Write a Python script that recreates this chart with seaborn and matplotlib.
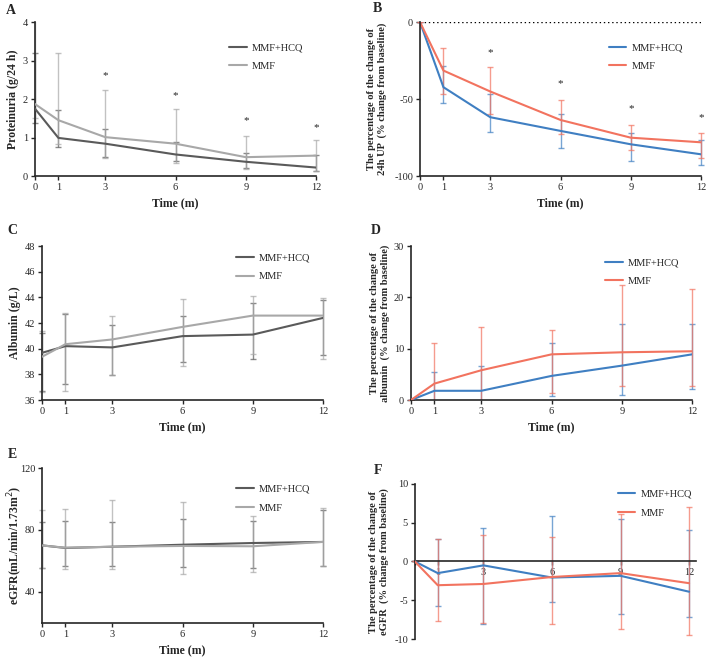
import numpy as np
import pandas as pd
import seaborn as sns
import matplotlib.pyplot as plt
from matplotlib.transforms import Bbox, TransformedBbox

sns.set_style("ticks")
plt.rcParams['font.family'] = ['Liberation Serif', 'DejaVu Serif']
plt.rcParams['axes.unicode_minus'] = False

time = [0, 1, 3, 6, 9, 12]
groups = ["MMF+HCQ", "MMF"]

# A: proteinuria (g/24 h)
a_hcq = [1.75, 0.99, 0.84, 0.56, 0.37, 0.22]
a_hcq_lo = [1.38, 0.75, 0.50, 0.38, 0.20, 0.14]
a_hcq_hi = [3.19, 1.72, 1.22, 0.88, 0.60, 0.55]
a_mmf = [1.87, 1.45, 1.01, 0.84, 0.49, 0.53]
a_mmf_lo = [1.51, 0.82, 0.47, 0.35, 0.18, 0.12]
a_mmf_hi = [4.40, 3.19, 2.23, 1.73, 1.05, 0.94]
a_star = [None, None, 2.6, 2.1, 1.45, 1.25]

# B: % change of 24h UP
b_hcq = [0, -42.3, -61.8, -70.7, -79.4, -85.9]
b_hcq_lo = [0, -52.7, -71.6, -81.6, -90.2, -92.8]
b_hcq_hi = [0, -28.4, -46.8, -59.9, -71.8, -76.8]
b_mmf = [0, -31.5, -45.1, -63.6, -75.1, -78.1]
b_mmf_lo = [0, -46.8, -59.5, -72.9, -83.0, -88.0]
b_mmf_hi = [0, -16.9, -29.5, -50.8, -66.8, -71.8]
b_star = [None, None, -20, -40, -56, -62]

# C: albumin (g/L)
c_hcq = [39.68, 40.20, 40.10, 40.98, 41.10, 42.40]
c_hcq_lo = [36.70, 37.24, 37.97, 39.00, 39.20, 39.50]
c_hcq_hi = [41.20, 42.69, 41.81, 42.56, 43.60, 43.83]
c_mmf = [39.37, 40.35, 40.72, 41.70, 42.58, 42.58]
c_mmf_lo = [36.62, 36.73, 37.95, 38.67, 39.56, 39.19]
c_mmf_hi = [41.39, 42.82, 42.58, 43.90, 44.11, 43.98]

# D: % change of albumin
d_hcq = [0, 1.8, 1.8, 4.7, 6.7, 8.9]
d_hcq_lo = [0, -1.8, -3.1, 0.7, 0.9, 2.2]
d_hcq_hi = [0, 5.4, 6.7, 11.2, 14.8, 14.8]
d_mmf = [0, 3.2, 5.8, 8.9, 9.3, 9.5]
d_mmf_lo = [0, -4.7, -2.7, 1.4, 2.8, 2.7]
d_mmf_hi = [0, 11.1, 14.3, 13.7, 22.5, 21.6]

# E: eGFR
e_hcq = [70.1, 68.4, 69.2, 70.5, 71.6, 72.3]
e_hcq_lo = [55.7, 57.0, 57.0, 56.0, 55.7, 56.8]
e_hcq_hi = [85.4, 85.8, 85.2, 87.3, 85.8, 92.9]
e_mmf = [70.0, 68.6, 69.2, 69.7, 69.5, 72.3]
e_mmf_lo = [55.7, 55.0, 55.0, 51.8, 53.1, 56.8]
e_mmf_hi = [92.9, 93.5, 99.4, 98.0, 89.0, 94.2]

# F: % change of eGFR
f_hcq = [0, -1.5, -0.5, -2.07, -1.85, -3.9]
f_hcq_lo = [0, -5.7, -8.1, -5.25, -6.8, -7.1]
f_hcq_hi = [0, 2.9, 4.3, 5.9, 5.47, 4.0]
f_mmf = [0, -3.06, -2.9, -2.0, -1.5, -2.8]
f_mmf_lo = [0, -7.7, -7.9, -8.06, -8.75, -9.5]
f_mmf_hi = [0, 2.9, 3.4, 3.15, 6.1, 7.0]

gray_pal = {"MMF+HCQ": "#5a5a5a", "MMF": "#a8a8a8"}
color_pal = {"MMF+HCQ": "#3f7fc2", "MMF": "#f2735f"}


def draw_panel(ax, series, palette, ylim, yticks, ylabel, ylabel_x, legend_anchor,
               ylabel_size=8.5):
    rows = []
    for g, (mean, lo, hi) in zip(groups, series):
        for t, v in zip(time, mean):
            rows.append({"time": t, "value": v, "group": g})
    df = pd.DataFrame(rows)

    # clip error bars only vertically, so caps at t=0 and t=12 stay whole
    clip = TransformedBbox(Bbox([[-0.05, 0], [1.05, 1]]), ax.transAxes)
    for g, (mean, lo, hi) in zip(groups, series):
        m = np.array(mean)
        cont = ax.errorbar(time, m, yerr=[m - np.array(lo), np.array(hi) - m], fmt="none",
                           ecolor=palette[g], elinewidth=1.0, capsize=2.5, capthick=1.0,
                           alpha=0.7, zorder=2)
        for art in list(cont[1]) + list(cont[2]):
            art.set_clip_box(clip)

    sns.lineplot(data=df, x="time", y="value", hue="group", palette=palette,
                 hue_order=groups, ax=ax, linewidth=1.5, errorbar=None, zorder=3)

    ax.set_xlim(0, 12)
    ax.set_ylim(*ylim)
    ax.set_xticks(time)
    ax.set_yticks(yticks)
    ax.set_xlabel("Time (m)", fontsize=8.5, fontweight="bold")
    ax.set_ylabel(ylabel, va="center", fontsize=ylabel_size, fontweight="bold")
    ax.yaxis.set_label_coords(ylabel_x, 0.5)
    ax.tick_params(labelsize=7.5, length=3, width=1, pad=2)
    for s in ["left", "bottom"]:
        ax.spines[s].set_linewidth(1.2)
    sns.despine(ax=ax)
    ax.legend(frameon=False, loc="upper right", bbox_to_anchor=legend_anchor,
              fontsize=7.5, handlelength=1.7, handletextpad=0.5,
              labelspacing=0.9, borderaxespad=0)


fig = plt.figure(figsize=(7.08, 6.6), dpi=100)

ax_a = fig.add_axes([0.0494, 0.7333, 0.397, 0.2333])
ax_b = fig.add_axes([0.5932, 0.7333, 0.397, 0.2333])
ax_c = fig.add_axes([0.0593, 0.3939, 0.397, 0.2333])
ax_d = fig.add_axes([0.5805, 0.3939, 0.397, 0.2333])
ax_e = fig.add_axes([0.0593, 0.0561, 0.397, 0.2348])
ax_f = fig.add_axes([0.586, 0.0318, 0.397, 0.2349])

pct = "The percentage of the change of\n{}  (% change from baseline)"

draw_panel(ax_a, [(a_hcq, a_hcq_lo, a_hcq_hi), (a_mmf, a_mmf_lo, a_mmf_hi)], gray_pal,
           (0, 4), [0, 1, 2, 3, 4], "Proteinuria (g/24 h)", -0.078, (0.97, 0.89))
draw_panel(ax_b, [(b_hcq, b_hcq_lo, b_hcq_hi), (b_mmf, b_mmf_lo, b_mmf_hi)], color_pal,
           (-100, 0), [-100, -50, 0], pct.format("24h UP"), -0.153, (0.95, 0.89), 7.6)
draw_panel(ax_c, [(c_hcq, c_hcq_lo, c_hcq_hi), (c_mmf, c_mmf_lo, c_mmf_hi)], gray_pal,
           (36, 48), [36, 38, 40, 42, 44, 46, 48], "Albumin (g/L)", -0.096, (0.97, 0.98))
draw_panel(ax_d, [(d_hcq, d_hcq_lo, d_hcq_hi), (d_mmf, d_mmf_lo, d_mmf_hi)], color_pal,
           (0, 30), [0, 10, 20, 30], pct.format("albumin"), -0.11, (0.97, 0.95), 7.6)
draw_panel(ax_e, [(e_hcq, e_hcq_lo, e_hcq_hi), (e_mmf, e_mmf_lo, e_mmf_hi)], gray_pal,
           (20, 120), [40, 80, 120], "eGFR(mL/min/1.73m$^2$)", -0.096, (0.97, 0.92))
draw_panel(ax_f, [(f_hcq, f_hcq_lo, f_hcq_hi), (f_mmf, f_mmf_lo, f_mmf_hi)], color_pal,
           (-10, 10), [-10, -5, 0, 5, 10], pct.format("eGFR"), -0.128, (1.0, 0.99), 7.6)

# panel letters
for letter, (px, py) in zip("ABCDEF", [(11, 10), (377, 8), (12, 231), (376, 231),
                                      (12, 454), (378, 471)]):
    fig.text(px / 708, 1 - py / 660, letter, fontsize=10, fontweight="bold",
             ha="center", va="center")

# significance marks
for ax, stars in [(ax_a, a_star), (ax_b, b_star)]:
    for t, s in zip(time, stars):
        if s is not None:
            ax.text(t, s, "*", ha="center", va="center", fontsize=8, clip_on=False)

# dotted baseline in B
ax_b.axhline(0, color="black", linestyle=(0, (1, 2)), linewidth=1.0, zorder=1)
ax_b.spines["left"].set_zorder(4)

# F: x axis through zero, no axis title, no label at 0
ax_f.spines["bottom"].set_position(("data", 0))
ax_f.set_xlabel("")
ax_f.set_xticklabels(["", "1", "3", "6", "9", "12"])
ax_f.set_xlim(0, 12.3)
ax_f.spines["bottom"].set_bounds(0, 12.3)

fig.savefig("out.png", dpi=100)
